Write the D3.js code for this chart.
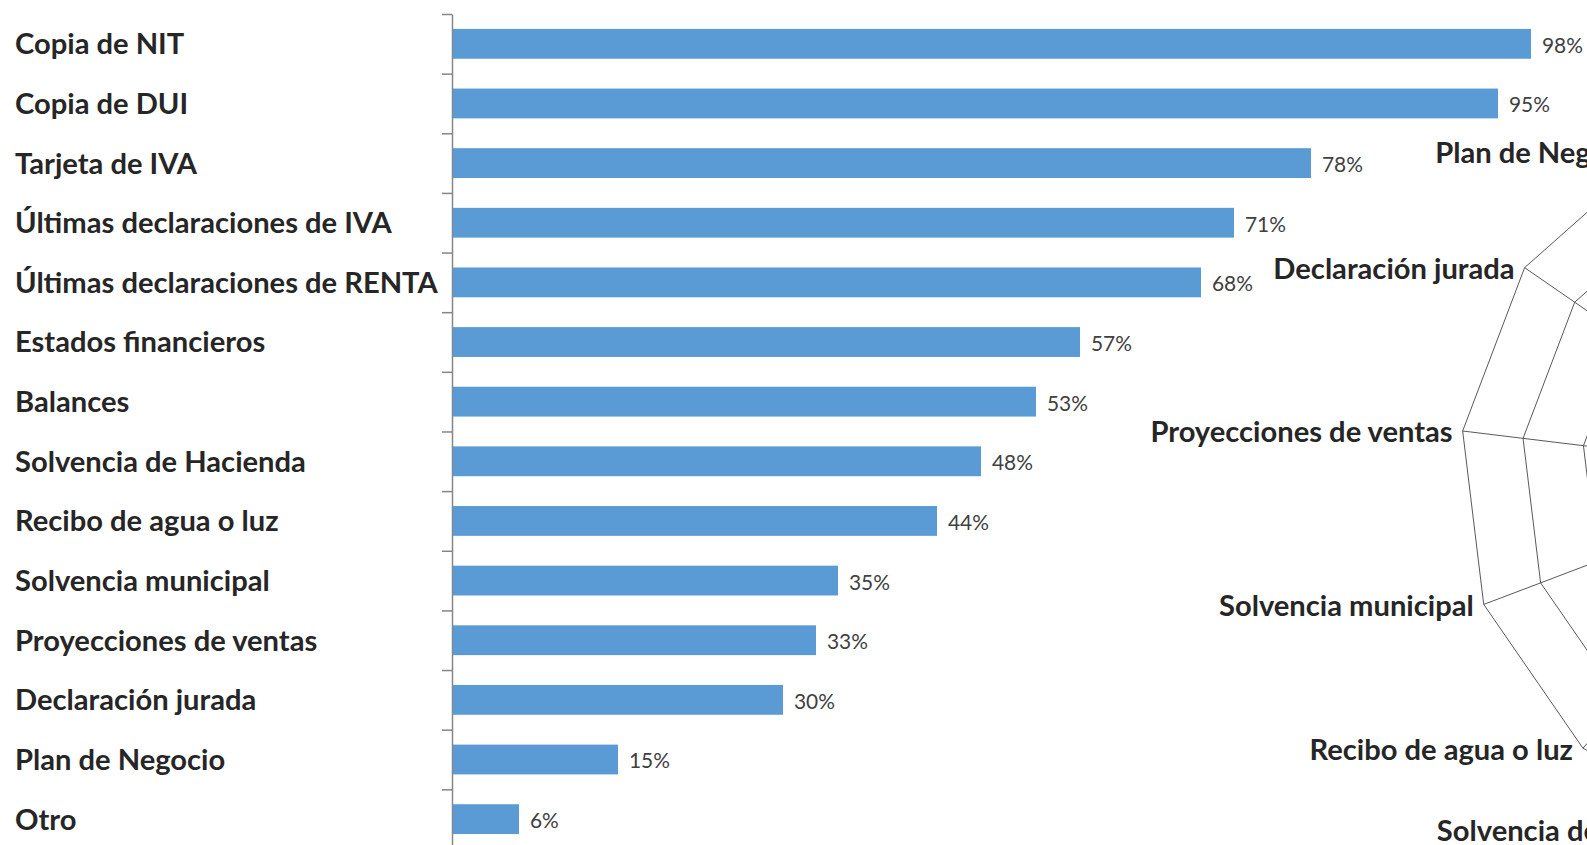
<!DOCTYPE html>
<html>
<head>
<meta charset="utf-8">
<script src="https://cdn.jsdelivr.net/npm/d3@7"></script>
<style>
  html, body { margin: 0; padding: 0; background: #ffffff; overflow: hidden; }
  svg { display: block; }
</style>
</head>
<body>
<svg id="chart" width="1587" height="845"></svg>
<script>
// ---- data ----
const categories = [
  "Copia de NIT", "Copia de DUI", "Tarjeta de IVA", "Últimas declaraciones de IVA",
  "Últimas declaraciones de RENTA", "Estados financieros", "Balances",
  "Solvencia de Hacienda", "Recibo de agua o luz", "Solvencia municipal",
  "Proyecciones de ventas", "Declaración jurada", "Plan de Negocio", "Otro"
];
const values = [98, 95, 78, 71, 68, 57, 53, 48, 44, 35, 33, 30, 15, 6];

const radarCategories = [
  "Copia de NIT", "Copia de DUI", "Tarjeta de IVA", "Últimas declaraciones de IVA",
  "Últimas declaraciones de RENTA", "Estados financieros", "Balances",
  "Solvencia de Hacienda", "Recibo de agua o luz", "Solvencia municipal",
  "Proyecciones de ventas", "Declaración jurada", "Plan de Negocio"
];
const radarValues = [98, 95, 78, 71, 68, 57, 53, 48, 44, 35, 33, 30, 15];
const radarTicks = [20, 40, 60, 80, 100, 120];

// ---- setup ----
const svg = d3.select("#chart");
const FONT = "Lato, 'Open Sans', 'DejaVu Sans', sans-serif";

// fit font sizes to reference text widths
function fitSize(text, weight, target) {
  const t = svg.append("text").attr("font-family", FONT).attr("font-weight", weight)
    .attr("font-size", 100).text(text);
  const w = t.node().getComputedTextLength();
  t.remove();
  return 100 * target / w;
}
const catSize = fitSize("Últimas declaraciones de RENTA", 700, 423);
const valSize = fitSize("98%", 400, 41);

// ---- bar chart ----
const x = d3.scaleLinear().domain([0, 100]).range([453, 1553]);
const y = d3.scaleBand().domain(categories).range([14, 14 + 14 * 59.64])
  .paddingInner(0.5).paddingOuter(0.25);
const yEdges = d3.scaleLinear().domain([0, categories.length]).range(y.range());

const axis = d3.axisLeft(yEdges)
  .tickValues(d3.range(0, categories.length + 1))
  .tickFormat("")
  .tickSize(10)
  .tickSizeOuter(0);
const axisG = svg.append("g").attr("transform", `translate(${x(0) - 1},0)`).call(axis);
axisG.selectAll("path, line").attr("stroke", "#868686").attr("stroke-width", 1.5);

svg.append("g").selectAll("rect").data(categories).join("rect")
  .attr("x", x(0))
  .attr("y", d => y(d))
  .attr("width", (d, i) => x(values[i]) - x(0))
  .attr("height", y.bandwidth())
  .attr("fill", "#5B9BD5");

svg.append("g").selectAll("text").data(categories).join("text")
  .attr("x", 15)
  .attr("y", d => y(d) + y.bandwidth() / 2 + 0.358 * catSize)
  .attr("font-family", FONT).attr("font-weight", 700).attr("font-size", catSize)
  .attr("fill", "#262626")
  .text(d => d);

svg.append("g").selectAll("text").data(categories).join("text")
  .attr("x", (d, i) => x(values[i]) + 11)
  .attr("y", d => y(d) + y.bandwidth() / 2 + 1.5 + 0.358 * valSize)
  .attr("font-family", FONT).attr("font-size", valSize)
  .attr("fill", "#404040")
  .text((d, i) => values[i] + "%");

// ---- radar chart (partly outside the view) ----
const cx = 1825, cy = 475;
const r = d3.scaleLinear().domain([0, 120]).range([0, 365]);
const step = 2 * Math.PI / radarCategories.length;
const radar = svg.append("g").attr("transform", `translate(${cx},${cy})`);
const ring = d3.lineRadial().angle((d, i) => i * step).radius(d => r(d)).curve(d3.curveLinearClosed);

radar.selectAll("path.ring").data(radarTicks).join("path")
  .attr("class", "ring")
  .attr("d", t => ring(radarCategories.map(() => t)))
  .attr("fill", "none").attr("stroke", "#595959").attr("stroke-width", 1);

radar.selectAll("line.spoke").data(radarCategories).join("line")
  .attr("class", "spoke")
  .attr("x1", 0).attr("y1", 0)
  .attr("x2", (d, i) => r(120) * Math.sin(i * step))
  .attr("y2", (d, i) => -r(120) * Math.cos(i * step))
  .attr("stroke", "#595959").attr("stroke-width", 1);

radar.append("path")
  .attr("d", ring(radarValues))
  .attr("fill", "none").attr("stroke", "#5B9BD5").attr("stroke-width", 2.5);

radar.selectAll("text").data(radarCategories).join("text")
  .each(function(d, i) {
    const a = i * step;
    const vx = r(120) * Math.sin(a), vy = -r(120) * Math.cos(a);
    const s = Math.sin(a);
    let anchor = "middle", tx = vx, ty = vy + 1;
    if (s < -0.01) { anchor = "end"; tx = vx - 10; }
    else if (s > 0.01) { anchor = "start"; tx = vx + 10; }
    else { ty = vy - 14; }
    d3.select(this)
      .attr("x", tx).attr("y", ty + 0.358 * catSize)
      .attr("text-anchor", anchor);
  })
  .attr("font-family", FONT).attr("font-weight", 700).attr("font-size", catSize)
  .attr("fill", "#262626")
  .text(d => d);
</script>
</body>
</html>
